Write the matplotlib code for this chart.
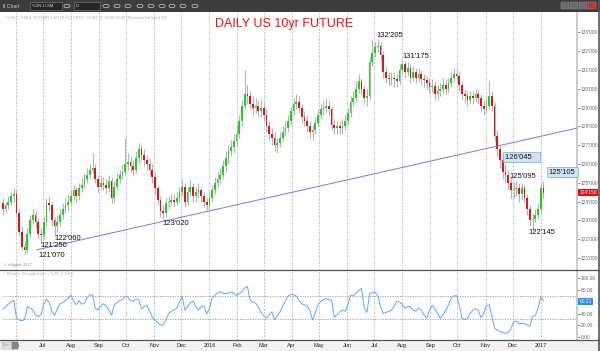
import numpy as np
import pandas as pd
import matplotlib
matplotlib.use("Agg")
import matplotlib.pyplot as plt
import matplotlib.dates as mdates
from matplotlib.patches import Rectangle, Circle
from matplotlib.lines import Line2D
from matplotlib.ticker import FuncFormatter

plt.rcParams["font.family"] = ["Liberation Sans", "DejaVu Sans"]

# ---- data: 3-day candles, 18 May 2015 .. 5 Jan 2017 ----
start_date = "2015-05-18"
first_open = 123.9

closes = [
    123.6, 123.8, 124.0, 124.3, 124.4, 123.4, 122.4, 121.6, 121.4, 122.3,
    123.0, 123.3, 122.9, 122.3, 122.2, 122.9, 123.9, 123.8, 123.0, 122.7,
    122.9, 123.3, 123.6, 123.8, 124.0, 124.3, 124.6, 124.3, 124.7, 124.9,
    125.2, 125.4, 125.7, 125.8, 125.2, 124.8, 125.0, 124.9, 124.7, 125.1,
    124.2, 124.8, 125.2, 125.4, 125.6, 126.0, 126.1, 125.9, 125.7, 126.3,
    126.8, 126.5, 126.2, 126.0, 125.7, 125.3, 124.7, 124.1, 123.5, 123.4,
    123.9, 124.0, 124.1, 124.0, 124.2, 124.5, 124.8, 124.0, 124.5, 124.8,
    124.3, 124.5, 124.6, 124.3, 124.0, 123.8, 124.2, 124.6, 125.0, 125.2,
    125.4, 125.9, 126.3, 126.7, 126.9, 127.2, 127.6, 128.3, 129.1, 129.7,
    129.6, 129.2, 129.0, 129.1, 128.8, 129.0, 128.6, 128.0, 127.6, 127.4,
    127.0, 127.1, 127.4, 127.7, 127.9, 128.3, 128.8, 129.2, 129.3, 129.0,
    128.5, 128.3, 128.0, 127.7, 127.8, 128.2, 128.6, 128.9, 129.0, 129.1,
    128.9, 128.1, 127.9, 128.0, 127.9, 128.0, 128.3, 128.7, 129.3, 129.5,
    130.0, 130.4, 130.0, 129.5, 129.6, 131.4, 131.9, 132.2, 132.3, 131.8,
    130.9, 130.6, 130.5, 130.6, 130.5, 130.4, 131.0, 131.3, 130.9, 131.1,
    130.6, 130.9, 130.6, 130.8, 130.5, 130.45, 130.3, 130.1, 130.15, 129.7,
    129.9, 130.0, 130.2, 130.0, 130.3, 130.6, 130.8, 130.7, 130.2, 129.7,
    129.6, 129.4, 129.6, 129.5, 129.7, 129.5, 129.1, 128.9, 129.1, 129.6,
    129.1, 127.5, 126.8, 126.2, 125.6, 125.4, 125.0, 124.6, 124.65, 124.7,
    124.4, 124.7, 124.2, 123.6, 123.0, 123.1, 123.3, 123.6, 124.7, 124.45,
]
highs = [
    124.2, 124.0, 124.3, 124.5, 124.7, 124.6, 123.6, 122.7, 121.9, 122.6,
    123.3, 123.6, 123.5, 123.1, 122.6, 123.2, 124.2, 124.3, 124.0, 123.2,
    123.3, 123.6, 123.9, 124.2, 124.4, 124.6, 124.9, 124.8, 125.0, 125.3,
    125.5, 125.8, 126.0, 126.6, 126.0, 125.4, 125.4, 125.3, 125.2, 125.4,
    125.3, 125.1, 125.5, 125.7, 126.0, 127.4, 126.6, 126.4, 126.2, 126.7,
    127.1, 127.0, 126.8, 126.5, 126.3, 126.0, 125.5, 124.9, 124.3, 123.8,
    124.2, 124.3, 124.4, 124.4, 124.5, 124.8, 125.2, 125.0, 124.8, 125.2,
    125.0, 124.8, 125.0, 124.8, 124.5, 124.2, 124.5, 124.9, 125.3, 125.6,
    125.8, 126.2, 126.7, 127.0, 127.3, 127.6, 128.0, 128.6, 129.4, 131.0,
    130.2, 129.9, 129.6, 129.5, 129.4, 129.4, 129.3, 128.9, 128.3, 127.9,
    127.7, 127.4, 127.7, 128.0, 128.3, 128.6, 129.1, 129.5, 129.7, 129.6,
    129.2, 128.8, 128.6, 128.3, 128.1, 128.5, 128.9, 129.2, 129.4, 129.5,
    129.4, 129.1, 128.4, 128.3, 128.3, 128.4, 128.6, 129.0, 129.6, 129.9,
    130.4, 130.8, 130.6, 130.2, 130.0, 131.7, 132.6, 132.5, 132.64, 132.5,
    132.0, 131.2, 130.9, 130.9, 130.9, 130.8, 131.3, 131.55, 131.5, 131.4,
    131.3, 131.2, 131.1, 131.1, 131.0, 130.8, 130.7, 130.6, 130.5, 130.4,
    130.2, 130.3, 130.6, 130.5, 130.6, 130.9, 131.1, 131.1, 130.9, 130.4,
    130.0, 129.9, 129.9, 129.9, 130.0, 130.0, 129.7, 129.4, 129.5, 130.4,
    129.9, 129.3, 127.8, 127.0, 126.5, 126.0, 125.7, 125.3, 125.0, 125.1,
    125.0, 125.0, 124.9, 124.4, 123.8, 123.4, 123.6, 123.9, 125.0, 125.1,
]
lows = [
    123.3, 123.4, 123.6, 123.8, 124.0, 123.2, 122.2, 121.4, 121.22, 121.3,
    122.1, 122.8, 122.6, 122.0, 121.78, 122.0, 122.7, 123.5, 122.7, 122.19,
    122.4, 122.7, 123.1, 123.4, 123.5, 123.8, 124.1, 124.0, 124.1, 124.5,
    124.7, 125.0, 125.2, 125.5, 125.0, 124.5, 124.6, 124.6, 124.4, 124.5,
    123.9, 124.0, 124.6, 125.0, 125.2, 125.4, 125.7, 125.6, 125.4, 125.5,
    126.0, 126.2, 125.9, 125.7, 125.4, 125.0, 124.4, 123.8, 123.2, 123.06,
    123.2, 123.6, 123.8, 123.7, 123.8, 124.0, 124.3, 123.7, 123.8, 124.3,
    124.0, 124.0, 124.2, 124.0, 123.7, 123.55, 123.6, 124.0, 124.4, 124.8,
    125.0, 125.2, 125.6, 126.0, 126.4, 126.6, 127.0, 127.4, 128.0, 128.9,
    129.2, 128.9, 128.6, 128.7, 128.5, 128.5, 128.3, 127.7, 127.3, 127.0,
    126.7, 126.6, 126.9, 127.2, 127.5, 127.7, 128.1, 128.6, 128.9, 128.7,
    128.2, 128.0, 127.7, 127.4, 127.3, 127.6, 128.0, 128.4, 128.6, 128.7,
    128.6, 127.8, 127.6, 127.6, 127.6, 127.6, 127.8, 128.1, 128.5, 129.1,
    129.3, 129.8, 129.7, 129.2, 129.1, 129.4, 131.2, 131.7, 131.9, 131.5,
    130.6, 130.3, 130.2, 130.2, 130.1, 130.1, 130.2, 130.8, 130.6, 130.7,
    130.3, 130.4, 130.3, 130.4, 130.2, 130.1, 130.0, 129.8, 129.8, 129.4,
    129.4, 129.6, 129.8, 129.7, 129.8, 130.1, 130.4, 130.4, 129.9, 129.4,
    129.3, 129.1, 129.2, 129.2, 129.3, 129.2, 128.8, 128.6, 128.7, 128.9,
    128.8, 127.2, 126.4, 125.8, 125.2, 125.0, 124.6, 124.2, 124.2, 124.3,
    124.0, 124.1, 123.9, 123.3, 122.7, 122.45, 122.9, 123.1, 123.4, 124.2,
]
rsi = [
    48, 52, 56, 60, 63, 33, 29, 28, 30, 52,
    49, 46, 38, 35, 38, 55, 64, 60, 44, 37,
    48, 57, 59, 62, 66, 72, 62, 55, 62, 56,
    58, 67, 72, 72, 49, 46, 52, 57, 53, 46,
    37, 55, 59, 62, 64, 69, 68, 62, 61, 65,
    64, 48, 52, 54, 44, 34, 29, 25, 20, 21,
    29, 40, 44, 46, 49, 60, 69, 46, 52, 58,
    62, 52, 46, 52, 53, 40, 48, 66, 71, 75,
    77, 75, 74, 75, 77, 75, 71, 74, 77, 84,
    86, 63, 60, 58, 52, 42, 36, 32, 38, 43,
    30, 36, 43, 53, 62, 70, 73, 72, 70, 62,
    57, 55, 53, 45, 29, 42, 55, 61, 64, 66,
    64, 63, 34, 38, 43, 46, 44, 55, 71, 70,
    75, 80, 83, 50, 42, 74, 76, 77, 70, 52,
    40, 42, 44, 46, 52, 61, 60, 56, 49, 52,
    52, 46, 44, 50, 46, 38, 32, 45, 54, 48,
    40, 32, 38, 45, 55, 66, 70, 71, 54, 32,
    30, 32, 40, 46, 48, 45, 33, 40, 54, 55,
    36, 15, 12, 9, 8, 6, 8, 14, 26, 27,
    23, 23, 23, 20, 19, 35, 37, 50, 68, 62,
]

trend_dates = ["2015-06-24", "2017-02-10"]
trend_prices = [121.43, 127.91]

note_dates = ["2016-07-04", "2016-08-01", "2015-06-26", "2015-06-28",
              "2015-07-14", "2015-11-10", "2016-11-27", "2016-12-18"]
note_prices = [132.81, 131.74, 121.11, 121.64, 122.06, 122.86, 125.36, 122.33]
note_labels = ["132'205", "131'175", "121'070", "121'250",
               "122'060", "123'020", "125'095", "122'145"]
box_dates = ["2016-11-22", "2017-01-10"]
box_prices = [126.37, 125.57]
box_labels = ["126'045   ", "125'105"]

month_ticks = pd.date_range("2015-06-01", "2017-01-01", freq="MS")
price_ticks = list(range(121, 134))
rsi_ticks = [0, 20, 40, 60, 80, 100]
rsi_levels = [30, 70]
last_price, last_price_label = 124.47, "124'150"
last_rsi = 60.21

dates = pd.date_range(start_date, periods=len(closes), freq="3D")
opens = [first_open] + closes[:-1]

# ---- figure ----
W, H = 600, 351
fig = plt.figure(figsize=(6, 3.51), dpi=100)


def fx(px):
    return px / W


def fy(py):
    return 1 - py / H


ax = fig.add_axes([fx(2), fy(270), fx(577) - fx(2), fy(12) - fy(270)])
ax2 = fig.add_axes([fx(2), fy(340), fx(577) - fx(2), fy(270) - fy(340)], sharex=ax)

# candles
bottoms = np.minimum(opens, closes)
heights = np.maximum(np.abs(np.array(closes) - np.array(opens)), 0.04)
colors = ["#18d418" if c >= o else "#e01414" for o, c in zip(opens, closes)]
ax.vlines(dates, lows, highs, color="#b4b4b4", lw=0.8, zorder=2)
ax.bar(dates, heights, bottom=bottoms, width=1.9, color=colors, linewidth=0, zorder=3)

ax.plot(pd.to_datetime(trend_dates), trend_prices, color="#7777ee", lw=0.7, zorder=4)

for d, p, s in zip(note_dates, note_prices, note_labels):
    ax.text(pd.Timestamp(d), p, s, fontsize=5.5, color="#111", ha="left", va="center", zorder=5)
for d, p, s in zip(box_dates, box_prices, box_labels):
    ax.text(pd.Timestamp(d), p, s, fontsize=5.5, color="#111", ha="left", va="center", zorder=5,
            bbox=dict(boxstyle="square,pad=0.25", fc="#cfe5f7", ec="#7ab8e6", lw=0.6))

ax.set_xlim(pd.Timestamp("2015-05-17"), pd.Timestamp("2017-02-10"))
ax.set_ylim(121 - 12 / 18.8, 121 + 246 / 18.8)
ax.yaxis.tick_right()
ax.set_yticks(price_ticks)
ax.set_yticklabels([f"{p}'000" for p in price_ticks])
ax.tick_params(axis="y", labelsize=3.5, colors="#666", length=2, width=0.5, pad=0.5)
ax.tick_params(axis="x", length=0, labelbottom=False)
ax.set_xticks(month_ticks)
ax.grid(axis="x", linestyle=(0, (2, 2)), color="#b0b0b0", lw=0.6)
for sp in ["top", "left", "bottom"]:
    ax.spines[sp].set_visible(False)
ax.spines["right"].set_color("#cccccc")
ax.spines["right"].set_linewidth(1.5)

ax.text(1.004, last_price, last_price_label, transform=ax.get_yaxis_transform(), fontsize=3.5,
        color="white", va="center", ha="left",
        bbox=dict(boxstyle="square,pad=0.2", fc="#e01010", ec="none"))

ax.text(0.49, 0.955, "DAILY US 10yr FUTURE", transform=ax.transAxes, fontsize=9,
        color="#ee1111", ha="center", va="center")
ax.text(0.004, 0.985, "* %ZN 1!-SMUL 10 YEAR T-NOTE FUTURES - ECBT, D, 00:00-00:00 (Dynamic) (delayed 10)",
        transform=ax.transAxes, fontsize=2.8, color="#aaaaaa", ha="left", va="top")
ax.text(0.004, 0.01, "\u00a9 eSignal, 2017", transform=ax.transAxes, fontsize=2.8,
        color="#888888", ha="left", va="bottom")

# RSI panel
ax2.plot(dates, rsi, color="#55aaff", lw=0.7)
for lvl in rsi_levels:
    ax2.axhline(lvl, color="#999999", lw=0.6, linestyle=(0, (1.5, 1.5)))
ax2.set_ylim(-5.1, 114.5)
ax2.yaxis.tick_right()
ax2.set_yticks(rsi_ticks)
ax2.set_yticklabels([f"{v:.2f}" for v in rsi_ticks])
ax2.tick_params(axis="y", labelsize=3.5, colors="#666", length=2, width=0.5, pad=0.5)
ax2.set_xticks(month_ticks)
ax2.xaxis.set_major_formatter(FuncFormatter(
    lambda x, pos: str(mdates.num2date(x).year) if mdates.num2date(x).month == 1
    else mdates.num2date(x).strftime("%b")))
ax2.tick_params(axis="x", length=0, pad=2.5, labelsize=4, colors="#222")
ax2.grid(axis="x", linestyle=(0, (2, 2)), color="#b0b0b0", lw=0.6)
for sp in ["top", "left", "bottom"]:
    ax2.spines[sp].set_visible(False)
ax2.spines["right"].set_color("#cccccc")
ax2.spines["right"].set_linewidth(1.5)
ax2.text(0.004, 0.97, "* Relative Strength Index - %ZN 1!,9,0,0", transform=ax2.transAxes,
         fontsize=2.8, color="#aaaaaa", ha="left", va="top")
ax2.text(1.004, last_rsi, f"{last_rsi:.2f}", transform=ax2.get_yaxis_transform(), fontsize=3.5,
         color="white", va="center", ha="left",
         bbox=dict(boxstyle="square,pad=0.2", fc="#2f8ff0", ec="none"))

# window chrome
fig.add_artist(Rectangle((0, fy(351)), 1, fy(340) - fy(351), transform=fig.transFigure,
                         fc="#f2f2f2", ec="none", zorder=-1))
for py in [270, 340]:
    fig.add_artist(Line2D([0, 1], [fy(py), fy(py)], transform=fig.transFigure, color="#555555", lw=0.9))
fig.add_artist(Line2D([fx(599), fx(599)], [0, 1], transform=fig.transFigure, color="#555555", lw=1.2))

fig.add_artist(Rectangle((0, fy(12)), 1, 12 / H, transform=fig.transFigure, fc="#3c3c3c", ec="none"))
fig.text(fx(3), fy(6), "\u2161 Chart", fontsize=3.6, color="#cccccc", va="center")
fig.add_artist(Rectangle((fx(30), fy(10)), 32 / W, 8 / H, transform=fig.transFigure,
                         fc="#262626", ec="#888888", lw=0.4))
fig.text(fx(32), fy(6), "%ZN 1!-SM", fontsize=3, color="#dddddd", va="center")
fig.add_artist(Rectangle((fx(74), fy(10)), 26 / W, 8 / H, transform=fig.transFigure,
                         fc="#262626", ec="#888888", lw=0.4))
fig.text(fx(76), fy(6), "D", fontsize=3, color="#dddddd", va="center")
for px in [67, 106, 117, 128, 140, 151, 162, 172, 183, 195]:
    fig.add_artist(Circle((fx(px), fy(6)), 3 / W, transform=fig.transFigure,
                          fc="none", ec="#cccccc", lw=0.5))
for i, px in enumerate([561, 570, 579, 588]):
    fig.add_artist(Rectangle((fx(px), fy(9)), 8 / W, 7 / H, transform=fig.transFigure,
                             fc="#c83030" if i == 3 else "#6a6a6a", ec="#999999", lw=0.3))

fig.add_artist(Rectangle((fx(2), fy(349)), 10 / W, 7 / H, transform=fig.transFigure,
                         fc="#e0e0e0", ec="#aaaaaa", lw=0.3, zorder=5))
fig.text(fx(3), fy(345.5), "Dim", fontsize=2.6, color="#999999", va="center", zorder=6)
fig.add_artist(Rectangle((fx(12), fy(349)), 6 / W, 7 / H, transform=fig.transFigure,
                         fc="#888888", ec="#666666", lw=0.3, zorder=5))

fig.savefig("out.png", dpi=100)
